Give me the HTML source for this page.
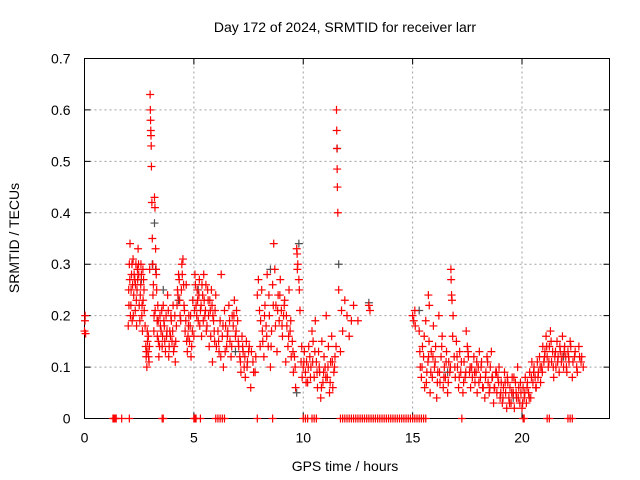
<!DOCTYPE html>
<html><head><meta charset="utf-8">
<style>
html,body{margin:0;padding:0;background:#fff;}
svg{display:block;font-family:"Liberation Sans",sans-serif;}
</style></head>
<body>
<svg id="chart" width="640" height="480" viewBox="0 0 640 480" xmlns="http://www.w3.org/2000/svg">
<rect width="640" height="480" fill="#fff"/>
<g id="grid"></g>
<g id="axes"></g>
<g id="series-grey"></g>
<g id="series-red"></g>
<text x="345" y="32" font-size="14" text-anchor="middle">Day 172 of 2024, SRMTID for receiver larr</text>
<text x="345" y="471" font-size="14" text-anchor="middle">GPS time / hours</text>
<text x="19" y="238" font-size="14" text-anchor="middle" transform="rotate(-90 19 238)">SRMTID / TECUs</text>
</svg>
<script>
const xTicks=[0,5,10,15,20];
const yTicks=[0,0.1,0.2,0.3,0.4,0.5,0.6,0.7];
const yTickLabels=["0","0.1","0.2","0.3","0.4","0.5","0.6","0.7"];
const hours=[0,0.02,0.03,0.05,
2.0,2.02,2.05,2.08,2.1,2.12,2.15,2.18,2.2,2.22,2.25,
2.3,2.32,2.35,2.38,2.4,2.42,2.45,2.48,2.5,
2.55,2.58,2.6,2.62,2.65,2.68,2.7,2.72,
2.8,2.82,2.85,2.88,2.9,2.92,2.95,2.98,3.0,3.01,3.02,3.03,3.04,3.05,3.06,3.08,
3.1,3.12,3.15,3.18,3.2,3.22,3.25,3.28,3.3,3.32,3.35,3.38,3.4,
3.45,3.5,3.55,3.6,3.65,3.7,3.75,3.8,
3.85,3.9,3.95,4.0,4.05,4.1,4.15,4.2,
4.25,4.3,4.35,4.4,4.45,4.5,4.55,4.6,4.65,4.7,
4.75,4.8,4.85,4.9,4.95,5.0,
5.05,5.1,5.15,5.2,5.25,5.3,5.35,5.4,5.45,5.5,
5.55,5.6,5.65,5.7,5.75,5.8,5.85,5.9,5.95,6.0,
6.1,6.15,6.2,6.25,6.3,6.35,6.4,6.45,6.5,
6.55,6.6,6.65,6.7,6.75,6.8,6.85,6.9,6.95,7.0,
7.05,7.1,7.15,7.2,7.25,7.3,7.35,7.4,7.45,7.5,
7.6,7.7,7.8,7.9,7.95,8.0,
8.05,8.1,8.15,8.2,8.25,8.3,8.35,8.4,8.45,8.5,
8.55,8.6,8.65,8.7,8.75,8.8,8.85,8.9,8.95,9.0,
9.05,9.1,9.15,9.2,9.25,9.3,9.35,9.4,9.45,9.5,
9.55,9.6,9.65,9.7,9.72,9.75,9.8,9.82,9.85,9.9,9.95,10.0,
10.05,10.1,10.15,10.2,10.25,10.3,10.35,10.4,10.45,10.5,
10.55,10.6,10.65,10.7,10.75,10.8,10.85,10.9,10.95,11.0,
11.05,11.1,11.15,11.2,11.25,11.3,11.35,11.4,11.45,11.5,
11.52,11.53,11.54,11.55,11.56,11.58,11.62,11.7,
11.75,11.8,11.9,12.0,12.1,12.2,12.3,12.5,
13.0,13.05,
15.0,15.05,15.1,15.12,
15.3,15.35,15.4,15.45,15.5,15.55,15.6,15.65,15.7,15.72,15.76,
15.75,15.8,15.85,15.9,15.95,16.0,16.05,16.1,16.15,16.2,
16.25,16.3,16.35,16.4,16.45,16.5,16.55,16.6,16.65,16.7,
16.75,16.76,16.78,16.8,16.85,16.9,16.95,17.0,17.05,17.1,17.15,17.2,
17.3,17.35,17.4,17.45,17.5,17.55,17.6,17.65,17.7,
17.8,17.85,17.9,17.95,18.0,18.05,18.1,18.15,18.2,
18.3,18.35,18.4,18.45,18.5,18.55,18.6,18.65,18.7,18.75,18.8,
18.85,18.9,18.95,19.0,19.05,19.1,19.15,19.2,19.25,19.3,19.35,19.4,
19.45,19.5,19.55,19.6,19.65,19.7,19.75,19.8,19.85,19.9,19.95,20.0,
20.05,20.1,20.15,20.2,20.25,20.3,20.35,20.4,20.45,20.5,
20.55,20.6,20.65,20.7,20.75,20.8,20.85,20.9,20.95,21.0,
21.05,21.1,21.15,21.2,21.25,21.3,21.35,21.4,21.45,21.5,
21.55,21.6,21.65,21.7,21.75,21.8,21.85,21.9,21.95,22.0,
22.05,22.1,22.15,22.2,22.3,22.4,22.5,22.6,22.7,22.8];
const srmtid=[0.17,0.19,0.2,0.165,
0.18,0.25,0.3,0.34,0.2,0.22,0.28,0.19,0.26,0.31,0.24,
0.27,0.21,0.3,0.18,0.25,0.29,0.33,0.28,0.22,
0.24,0.3,0.28,0.2,0.17,0.23,0.27,0.25,
0.14,0.12,0.1,0.15,0.13,0.16,0.11,0.29,0.63,0.6,0.58,0.56,0.55,0.53,0.49,0.42,
0.35,0.3,0.26,0.2,0.43,0.41,0.33,0.28,0.25,0.19,0.22,0.15,0.12,
0.2,0.17,0.14,0.22,0.18,0.13,0.16,0.24,
0.12,0.17,0.2,0.15,0.22,0.14,0.11,0.18,
0.25,0.28,0.23,0.19,0.3,0.31,0.22,0.17,0.26,0.13,
0.18,0.15,0.2,0.14,0.23,0.16,
0.28,0.22,0.25,0.19,0.27,0.21,0.16,0.24,0.28,0.2,
0.26,0.18,0.23,0.14,0.21,0.25,0.11,0.19,0.15,0.24,
0.17,0.13,0.19,0.28,0.16,0.1,0.21,0.18,0.14,
0.17,0.22,0.15,0.12,0.2,0.18,0.23,0.16,0.21,0.19,
0.14,0.12,0.09,0.16,0.13,0.1,0.08,0.15,0.11,0.13,
0.06,0.11,0.09,0.24,0.27,0.21,
0.19,0.25,0.15,0.12,0.22,0.18,0.28,0.14,0.2,0.1,
0.17,0.26,0.34,0.29,0.22,0.13,0.24,0.19,0.27,0.21,
0.16,0.2,0.23,0.11,0.18,0.14,0.25,0.17,0.12,0.15,
0.09,0.12,0.06,0.33,0.32,0.3,0.27,0.25,0.21,0.11,0.08,0.1,
0.13,0.09,0.11,0.07,0.14,0.12,0.1,0.17,0.15,0.08,
0.19,0.11,0.06,0.13,0.09,0.04,0.15,0.07,0.12,0.1,
0.2,0.08,0.14,0.05,0.11,0.16,0.06,0.09,0.12,0.14,
0.6,0.56,0.525,0.485,0.45,0.4,0.25,0.13,
0.21,0.17,0.23,0.2,0.16,0.19,0.22,0.19,
0.22,0.21,
0.2,0.19,0.21,0.18,
0.17,0.1,0.08,0.14,0.12,0.06,0.19,0.09,0.11,0.24,0.22,
0.15,0.05,0.13,0.08,0.18,0.1,0.14,0.04,0.09,0.2,
0.07,0.12,0.16,0.06,0.1,0.08,0.13,0.05,0.11,0.09,
0.29,0.27,0.24,0.23,0.2,0.12,0.08,0.15,0.1,0.06,0.13,0.09,
0.05,0.11,0.08,0.17,0.14,0.12,0.09,0.06,0.1,
0.12,0.07,0.09,0.05,0.1,0.13,0.08,0.11,0.06,
0.04,0.09,0.12,0.07,0.05,0.1,0.13,0.08,0.03,0.06,0.09,
0.05,0.08,0.1,0.04,0.07,0.03,0.06,0.09,0.05,0.02,0.07,0.04,
0.06,0.03,0.08,0.05,0.02,0.07,0.04,0.1,0.06,0.03,0.05,0.02,
0.06,0.04,0.08,0.03,0.07,0.05,0.09,0.04,0.11,0.07,
0.1,0.08,0.06,0.11,0.09,0.12,0.07,0.1,0.14,0.11,
0.13,0.16,0.12,0.1,0.14,0.17,0.11,0.13,0.08,0.12,
0.1,0.15,0.12,0.09,0.13,0.11,0.16,0.1,0.14,0.12,
0.09,0.13,0.11,0.15,0.08,0.12,0.1,0.14,0.11,0.1];
const hours2=[2.03,2.07,2.13,2.17,2.23,2.27,2.33,2.37,2.43,2.47,2.53,2.57,2.63,2.67,2.73,2.77,
2.83,2.87,2.93,2.97,3.13,3.17,3.23,3.27,3.33,3.37,3.43,3.47,3.53,3.57,3.63,3.67,3.73,3.77,
3.83,3.87,3.93,3.97,4.03,4.07,4.13,4.17,4.23,4.27,4.33,4.37,4.43,4.47,4.53,4.57,4.63,4.67,
4.73,4.77,4.83,4.87,4.93,5.03,5.07,5.13,5.17,5.23,5.27,5.33,5.37,5.43,5.47,5.53,5.57,5.63,
5.67,5.73,5.77,5.83,5.87,5.93,5.97,6.03,6.13,6.23,6.33,6.43,6.53,6.63,6.73,6.83,6.93,7.03,
7.13,7.23,7.33,7.43,7.53,7.63,7.73,7.83,8.03,8.13,8.23,8.33,8.43,8.53,8.63,8.73,8.83,8.93,
9.03,9.13,9.23,9.33,9.43,9.53,9.63,9.73,9.93,10.03,10.13,10.23,10.33,10.43,10.53,10.63,
10.73,10.83,10.93,11.03,11.13,11.23,11.33,11.43,15.33,15.43,15.53,15.63,15.73,15.83,15.93,
16.03,16.13,16.23,16.33,16.43,16.53,16.63,16.73,16.83,16.93,17.03,17.13,17.23,17.33,17.43,
17.53,17.63,17.73,17.83,17.93,18.03,18.13,18.23,18.33,18.43,18.53,18.63,18.73,18.83,18.93,
19.03,19.13,19.23,19.33,19.43,19.53,19.63,19.73,19.83,19.93,20.03,20.13,20.23,20.33,20.43,
20.53,20.63,20.73,20.83,20.93,21.03,21.13,21.23,21.33,21.43,21.53,21.63,21.73,21.83,21.93,
22.03,22.13,22.23,22.33,22.43,22.53,22.63,22.73];
const srmtid2=[0.22,0.27,0.25,0.3,0.2,0.28,0.26,0.23,0.27,0.3,0.19,0.26,0.22,0.29,0.21,0.18,
0.13,0.17,0.12,0.14,0.24,0.17,0.21,0.29,0.16,0.19,0.14,0.18,0.21,0.16,0.19,0.15,0.2,0.17,
0.21,0.14,0.16,0.19,0.17,0.13,0.2,0.15,0.22,0.24,0.27,0.2,0.25,0.28,0.26,0.21,0.19,0.15,
0.16,0.2,0.18,0.12,0.17,0.21,0.26,0.2,0.23,0.24,0.18,0.22,0.26,0.19,0.23,0.21,0.17,0.25,
0.2,0.23,0.16,0.22,0.2,0.17,0.21,0.14,0.15,0.12,0.18,0.13,0.16,0.19,0.14,0.2,0.17,0.15,
0.11,0.14,0.12,0.1,0.14,0.13,0.09,0.12,0.14,0.17,0.2,0.16,0.24,0.14,0.22,0.18,0.21,0.24,
0.18,0.22,0.2,0.16,0.19,0.13,0.1,0.29,0.14,0.11,0.07,0.1,0.08,0.11,0.13,0.09,
0.1,0.06,0.09,0.08,0.1,0.07,0.11,0.1,0.13,0.1,0.16,0.07,0.12,0.09,0.12,
0.11,0.07,0.09,0.14,0.08,0.11,0.07,0.1,0.16,0.1,0.12,0.08,0.11,0.07,0.09,
0.13,0.1,0.08,0.09,0.11,0.07,0.1,0.06,0.08,0.11,0.06,0.08,0.06,0.09,0.07,
0.05,0.04,0.07,0.08,0.03,0.05,0.08,0.05,0.04,0.07,0.03,0.05,0.06,0.04,0.08,
0.09,0.06,0.08,0.1,0.09,0.12,0.14,0.11,0.15,0.1,0.13,0.11,0.14,0.12,0.13,
0.1,0.12,0.14,0.11,0.13,0.09,0.12,0.12];
const zeroHours=[1.3,1.35,1.4,1.45,1.7,2.05,3.55,3.6,5.0,5.05,5.1,5.3,6.0,6.1,6.2,6.3,6.4,7.9,8.6,10.0,10.1,10.2,10.4,10.5,10.6,11.7,11.8,11.9,12.0,12.1,12.2,12.3,12.4,12.5,12.6,12.7,12.8,12.9,13.0,13.1,13.2,13.3,13.4,13.5,13.6,13.7,13.8,13.9,14.0,14.1,14.2,14.3,14.4,14.5,14.6,14.7,14.8,14.9,15.0,15.1,15.2,15.3,15.4,15.5,15.6,17.25,20.05,20.1,21.15,21.25,22.1,22.2,22.3];
const greyHours=[2.6,3.1,3.2,3.25,3.6,4.3,5.2,6.9,8.5,9.7,9.8,11.55,11.62,13.0,15.3,16.6,19.6,21.9];
const greySrmtid=[0.27,0.3,0.38,0.29,0.25,0.23,0.25,0.13,0.29,0.05,0.34,0.525,0.3,0.225,0.21,0.09,0.04,0.12];

const NS="http://www.w3.org/2000/svg";
const X0=84.5,X1=609.5,Y0=418.5,Y1=58.5,XMAX=24,YMAX=0.7;
function xs(h){return X0+(h/XMAX)*(X1-X0);}
function ys(v){return Y0-(v/YMAX)*(Y0-Y1);}
function mk(tag,attrs,parent){const e=document.createElementNS(NS,tag);for(const k in attrs)e.setAttribute(k,attrs[k]);parent.appendChild(e);return e;}
const grid=document.getElementById('grid'),axes=document.getElementById('axes');
xTicks.forEach((t,i)=>{
  const x=xs(t);
  if(t>0){const g=mk('line',{x1:x,y1:Y0,x2:x,y2:Y1,stroke:'#a0a0a0','stroke-dasharray':'2,3','stroke-width':1},grid);
  
  }
  const tk=mk('path',{d:`M${x},${Y0}v-6M${x},${Y1}v6`,stroke:'#000','stroke-width':1},axes);
  
  
  const l=mk('text',{x:x,y:Y0+24,'font-size':14,'text-anchor':'middle'},axes);l.textContent=String(t);
  
  
});
yTicks.forEach((t,i)=>{
  const y=ys(t);
  if(t>0&&t<YMAX){const g=mk('line',{x1:X0,y1:y,x2:X1,y2:y,stroke:'#a0a0a0','stroke-dasharray':'2,3','stroke-width':1},grid);
  
  }
  const tk=mk('path',{d:`M${X0},${y}h6M${X1},${y}h-6`,stroke:'#000','stroke-width':1},axes);
  
  
  const l=mk('text',{x:X0-14,y:y+5,'font-size':14,'text-anchor':'end'},axes);l.textContent=yTickLabels[i];
  
  
});
const fr=mk('rect',{x:X0,y:Y1,width:X1-X0,height:Y0-Y1,fill:'none',stroke:'#000','stroke-width':1},axes);


function plus(h,v,color,parent,name){
  const x=xs(h),y=ys(v);
  const p=mk('path',{d:`M${x-4},${y}h8M${x},${y-4}v8`,stroke:color,'stroke-width':1.2},parent);
  
  
}
const gs=document.getElementById('series-grey'),rs=document.getElementById('series-red');
greyHours.forEach((h,i)=>plus(h,greySrmtid[i],'#505050',gs,'grey-point'));
hours.forEach((h,i)=>plus(h,srmtid[i],'#ff0000',rs,'red-point'));
hours2.forEach((h,i)=>plus(h,srmtid2[i],'#ff0000',rs,'red-point'));
zeroHours.forEach(h=>plus(h,0,'#ff0000',rs,'zero-point'));
</script>
</body></html>
